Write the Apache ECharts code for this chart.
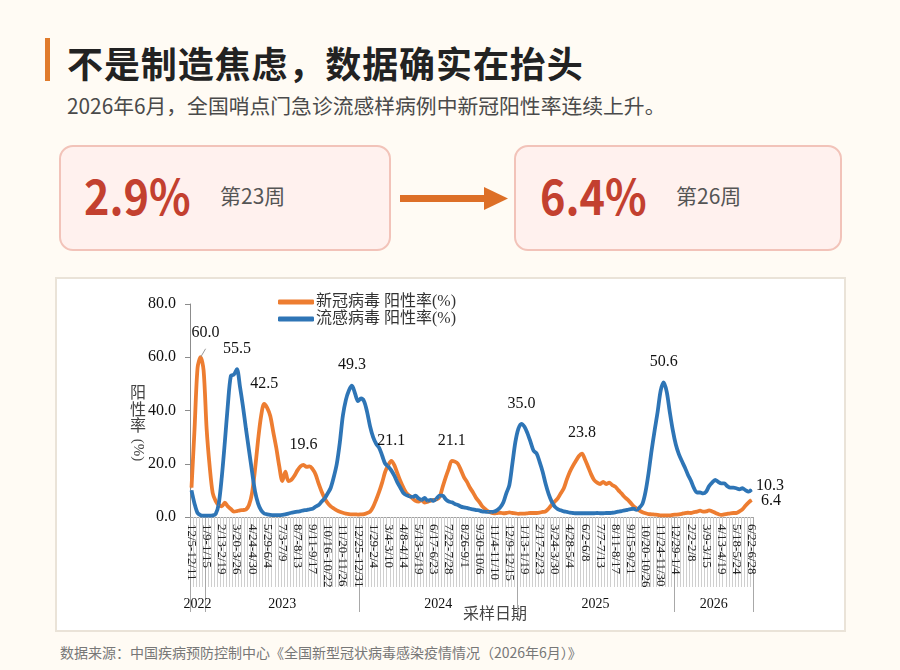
<!DOCTYPE html>
<html>
<head>
<meta charset="utf-8">
<script src="https://cdn.jsdelivr.net/npm/echarts@6/dist/echarts.min.js"></script>
<style>
    body{margin:0;width:900px;height:670px;background:#fffbf4;position:relative;overflow:hidden;font-family:"Noto Sans CJK SC","Noto Sans",sans-serif}
    .bar{position:absolute;left:45px;top:38px;width:5px;height:43px;background:#e07b2c}
    .title{position:absolute;left:67px;top:38px;font-size:36px;font-weight:700;color:#222;line-height:48px;letter-spacing:0.9px;white-space:nowrap}
    .sub{position:absolute;left:67px;top:91px;font-size:20.8px;color:#4a4a4a;line-height:28px;white-space:nowrap}
    .card{position:absolute;top:145px;height:106px;border:2px solid #f2c3b9;border-radius:14px;background:#fff1ee;box-sizing:border-box}
    .num{position:absolute;top:168px;font-size:48px;font-weight:700;color:#c3402f;line-height:52px;white-space:nowrap;transform:scaleX(0.9);transform-origin:0 0}
    .wk{position:absolute;top:181px;font-size:21px;color:#555;line-height:28px;white-space:nowrap}
    .panel{position:absolute;left:55px;top:277px;width:791px;height:355px;border:2px solid #eae3d8;background:#fff;box-sizing:border-box}
    #chart{position:absolute;left:0;top:0;width:787px;height:351px}
    .foot{position:absolute;left:60px;top:642px;font-size:14px;color:#777;line-height:20px;white-space:nowrap}
</style>
</head>
<body>
<div class="bar"></div>
<div class="title">不是制造焦虑，数据确实在抬头</div>
<div class="sub">2026年6月，全国哨点门急诊流感样病例中新冠阳性率连续上升。</div>

<div class="card" style="left:59px;width:332px"></div>
<div class="num" style="left:84px">2.9%</div>
<div class="wk" style="left:220px">第23周</div>

<svg style="position:absolute;left:0;top:0" width="900" height="260">
    <rect x="400" y="195" width="85" height="7" fill="#dd6f27"></rect>
    <polygon points="484,187 508,198.5 484,210" fill="#dd6f27"></polygon>
</svg>

<div class="card" style="left:514px;width:328px"></div>
<div class="num" style="left:540px">6.4%</div>
<div class="wk" style="left:676px">第26周</div>

<div class="panel"><div id="chart"></div></div>
<div class="foot">数据来源：中国疾病预防控制中心《全国新型冠状病毒感染疫情情况（2026年6月）》</div>

<script>
// 新冠 / 流感 阳性率(%)，每周一个点，从 2022-12-05 那周开始
var covidRate = [
    11, 33, 56, 60, 55, 33, 19, 9, 6, 4.5,
    4, 5.4, 4, 3, 2, 2.2, 2.5, 2.6, 2.8, 4.5,
    9, 18, 29, 38, 42.5, 41, 38, 32, 26, 19,
    13.5, 17, 13.5, 14, 15.5, 17.5, 19, 19.6, 18.8, 19,
    18, 16, 12.5, 9.5, 7, 5.2, 4, 3.2, 2.5, 2,
    1.6, 1.3, 1.1, 1, 1, 0.9, 1, 1.1, 1.5, 2,
    3.8, 6.5, 9.5, 13, 17, 19.5, 21.1, 19.5, 16.5, 13.5,
    11, 9, 8, 7, 6.1, 5.8, 6.4, 5.4, 5.7, 6.1,
    6.4, 6.6, 7.6, 11.4, 15, 18.2, 21.1, 20.8, 20, 17.6,
    15, 13.2, 11, 9.2, 7.2, 5.8, 4.1, 3, 2.1, 1.6,
    1.4, 1.5, 1.6, 1.4, 1.5, 1.7, 1.5, 1.4, 1.2, 1.3,
    1.3, 1.4, 1.5, 1.5, 1.5, 1.6, 1.9, 2.1, 3.2, 4.6,
    5.8, 7, 8.9, 10.8, 14.1, 17, 19.2, 21.1, 22.9, 23.8,
    21.6, 18.9, 16.1, 13.9, 12.9, 12.4, 13.2, 12.4, 12.9, 12,
    11.4, 10.1, 8.9, 7.6, 6.6, 5.4, 4.1, 3.2, 2.4, 1.8,
    1.4, 1.1, 1, 0.9, 0.8, 0.6, 0.6, 0.6, 0.6, 0.8,
    0.9, 1, 1.2, 1.5, 1.6, 1.5, 1.8, 2, 2.4, 2,
    2.1, 2.5, 2.1, 1.6, 1.1, 0.8, 1, 1.2, 1.4, 1.5,
    1.5, 2.1, 2.9, 4.2, 5.4, 6.4
];
var fluRate = [
    10, 5, 1.5, 0.7, 0.5, 0.5, 0.5, 0.6, 1.2, 5,
    15, 28, 42, 53, 53.5, 55.5, 49, 41.5, 33, 25,
    17, 9.5, 5, 2.5, 1.3, 1, 0.8, 0.7, 0.7, 0.7,
    0.8, 1, 1.3, 1.6, 1.8, 2, 2.2, 2.5, 2.6, 2.9,
    3.1, 3.9, 4.5, 5.8, 7, 8.9, 11, 15, 20, 28,
    38, 44, 47.5, 49.3, 46.5, 43.5, 44.5, 43.5, 39.5, 34,
    30, 27.5, 26, 23, 20, 19, 17.5, 15.5, 13, 11,
    9, 8.2, 7.8, 7.5, 8, 7, 6.4, 7.2, 6.1, 6.4,
    6.1, 7, 8, 8, 6.6, 5.8, 5.5, 4.9, 4.5, 3.9,
    3.6, 3.4, 3.1, 2.9, 2.6, 2.5, 2.1, 2, 1.9, 1.9,
    2, 2.6, 3.6, 5.4, 8.9, 12, 20, 28.2, 33.2, 35,
    33.9, 31.4, 28.2, 24.9, 23.9, 20.7, 17, 12.4, 8.6, 5.8,
    3.9, 3, 2.5, 2.1, 1.9, 1.6, 1.5, 1.4, 1.4, 1.4,
    1.4, 1.4, 1.4, 1.4, 1.5, 1.4, 1.4, 1.5, 1.5, 1.6,
    1.75, 2, 2.2, 2.5, 2.7, 3, 3.1, 2.7, 3.5, 5,
    9.5, 16.5, 25, 32.5, 39.5, 47.5, 50.6, 47, 39.5, 32.6,
    27.2, 23.6, 21, 18.6, 15.9, 13.6, 10.8, 9.2, 9.2, 8.9,
    9.5, 11.6, 12.9, 13.9, 13.2, 12.6, 12.6, 11.6, 11, 11,
    10.8, 10.4, 10.8, 10.1, 9.5, 10.3
];
// 标注数值的周
var covidLabelAt = [3, 24, 37, 66, 86, 129];
var fluLabelAt = [15, 53, 109, 156];
// 年份分组（按周序号分界）
var yearNames = ['2022', '2023', '2024', '2025', '2026'];
var yearBounds = [0, 5, 56, 108, 160, 186];

// 周标签 12/5-12/11 ...
var firstWeek = Date.UTC(2022, 11, 5);
var weekLabels = covidRate.map(function (v, i) {
    var a = new Date(firstWeek + i * 7 * 864e5);
    var b = new Date(firstWeek + (i * 7 + 6) * 864e5);
    return (a.getUTCMonth() + 1) + '/' + a.getUTCDate() + '-' + (b.getUTCMonth() + 1) + '/' + b.getUTCDate();
});
var yearMids = yearNames.map(function (y, k) {
    return (yearBounds[k] + yearBounds[k + 1]) / 2;
});

var serif = '"Liberation Serif","Noto Sans CJK SC"';

function withLabels(values, idx, endLabel) {
    return values.map(function (v, i) {
        if (i === values.length - 1) {
            return {value: v, label: endLabel};
        }
        if (idx.indexOf(i) >= 0) {
            return {value: v, label: {show: true}};
        }
        return v;
    });
}

var covidData = withLabels(covidRate, covidLabelAt, {show: true, position: 'right', distance: 9, offset: [0, 1]});
covidData[3] = {value: covidRate[3], label: {show: true, offset: [5, -4]}, labelLine: {show: true, lineStyle: {color: '#999', width: 1}}};
var fluData = withLabels(fluRate, fluLabelAt, {show: true, position: 'right', distance: 4, offset: [0, -4]});

var myChart = echarts.init(document.getElementById('chart'));

var lineLabel = {
    show: false,
    position: 'top',
    distance: 12,
    fontFamily: 'Liberation Serif',
    fontSize: 16,
    color: '#111',
    formatter: function (p) { return p.value.toFixed(1); }
};

option = {
    animation: false,
    legend: {
        orient: 'vertical',
        left: 216,
        top: 10,
        itemGap: 1,
        itemWidth: 36,
        itemHeight: 5,
        icon: 'roundRect',
        textStyle: {fontFamily: serif, fontSize: 16, color: '#333', padding: [0, 0, 0, -3]},
        data: ['新冠病毒 阳性率(%)', '流感病毒 阳性率(%)']
    },
    grid: {left: 133, top: 25, width: 563, height: 213, containLabel: false, outerBoundsMode: 'none'},
    xAxis: [
        {
            type: 'category',
            data: weekLabels,
            boundaryGap: true,
            axisLine: {lineStyle: {color: '#a0a0a0'}},
            axisTick: {show: true, interval: 0, length: 70, lineStyle: {color: '#cfcfcf'}},
            axisLabel: {interval: 4, rotate: -90, margin: 7, fontFamily: 'Liberation Serif', fontSize: 13, color: '#222'}
        },
        {
            type: 'value',
            min: 0,
            max: 186,
            position: 'bottom',
            offset: 0,
            axisLine: {show: false},
            splitLine: {show: false},
            axisTick: {show: true, length: 95, customValues: yearBounds, lineStyle: {color: '#a8a8a8'}},
            axisLabel: {
                customValues: yearMids,
                margin: 80,
                fontFamily: 'Liberation Serif',
                fontSize: 14,
                color: '#111',
                formatter: function (v) {
                    var k = yearMids.indexOf(v);
                    return k >= 0 ? yearNames[k] : '';
                }
            }
        }
    ],
    yAxis: {
        type: 'value',
        min: 0,
        max: 80,
        interval: 20,
        axisLine: {show: true, lineStyle: {color: '#8c8c8c'}},
        axisTick: {show: true, length: 5, lineStyle: {color: '#8c8c8c'}},
        splitLine: {show: false},
        axisLabel: {
            margin: 14,
            fontFamily: 'Liberation Serif',
            fontSize: 16,
            color: '#111',
            formatter: function (v) { return v.toFixed(1); }
        }
    },
    graphic: [
        {type: 'text', x: 81, y: 105, style: {text: '阳\n性\n率', fontSize: 16, lineHeight: 16.5, fontFamily: '"Noto Sans CJK SC"', fill: '#444', align: 'center', verticalAlign: 'top'}},
        {type: 'text', x: 81, y: 171, rotation: -Math.PI / 2, style: {text: '(%)', fontSize: 15, fontFamily: 'Liberation Serif', fill: '#444', align: 'center', verticalAlign: 'middle'}},
        {type: 'text', x: 438, y: 334, style: {text: '采样日期', fontSize: 16, fontFamily: '"Noto Sans CJK SC"', fill: '#444', align: 'center', verticalAlign: 'middle'}}
    ],
    series: [
        {
            name: '新冠病毒 阳性率(%)',
            type: 'line',
            data: covidData,
            smooth: 0.3,
            symbol: 'circle',
            symbolSize: 1,
            showAllSymbol: true,
            lineStyle: {width: 3.8, color: '#ed7d31'},
            itemStyle: {color: '#ed7d31'},
            label: lineLabel,
            emphasis: {disabled: true}
        },
        {
            name: '流感病毒 阳性率(%)',
            type: 'line',
            data: fluData,
            smooth: 0.3,
            symbol: 'circle',
            symbolSize: 1,
            showAllSymbol: true,
            lineStyle: {width: 3.8, color: '#2e75b6'},
            itemStyle: {color: '#2e75b6'},
            label: lineLabel,
            emphasis: {disabled: true}
        }
    ]
};

myChart.setOption(option);
</script>
</body>
</html>
